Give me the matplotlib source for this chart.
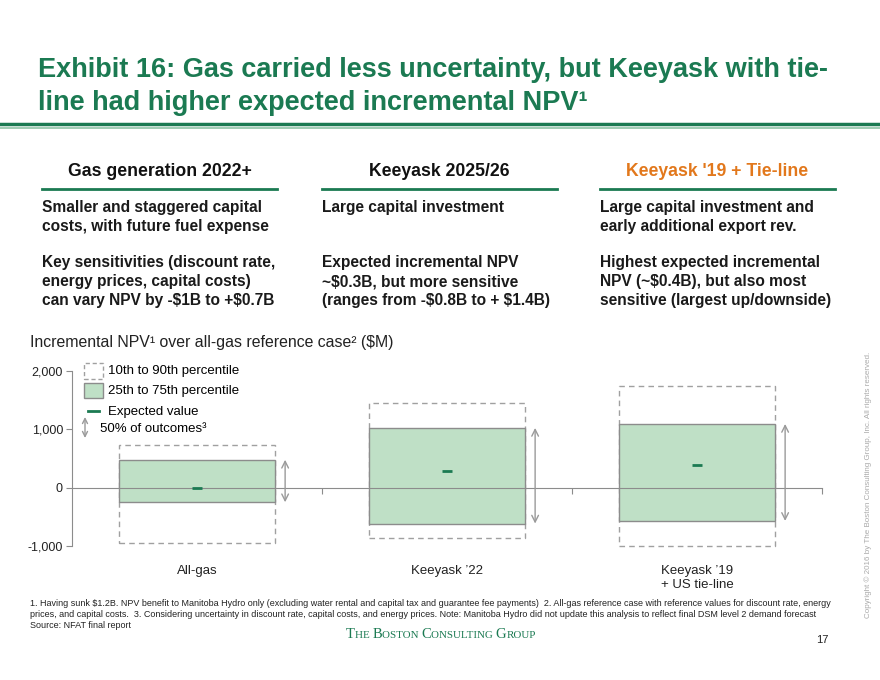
import matplotlib.pyplot as plt
from matplotlib.lines import Line2D
from matplotlib.patches import Rectangle

# NPV ranges ($M)
categories = ["All-gas", "Keeyask \u201922", "Keeyask \u201919\n+ US tie-line"]
p10 = [-955, -870, -1000]
p25 = [-250, -615, -570]
p75 = [478, 1024, 1092]
p90 = [734, 1444, 1746]
expected = [0, 283, 381]
yticks = [-1000, 0, 1000, 2000]
ytick_labels = ["-1,000", "0", "1,000", "2,000"]

col_heads = ["Gas generation 2022+", "Keeyask 2025/26", "Keeyask '19 + Tie-line"]
col_text_1 = ["Smaller and staggered capital\ncosts, with future fuel expense",
              "Large capital investment",
              "Large capital investment and\nearly additional export rev."]
col_text_2 = ["Key sensitivities (discount rate,\nenergy prices, capital costs)\ncan vary NPV by -$1B to +$0.7B",
              "Expected incremental NPV\n~$0.3B, but more sensitive\n(ranges from -$0.8B to + $1.4B)",
              "Highest expected incremental\nNPV (~$0.4B), but also most\nsensitive (largest up/downside)"]

foot_lines = [
    "1. Having sunk $1.2B. NPV benefit to Manitoba Hydro only (excluding water rental and capital tax and guarantee fee payments)  "
    "2. All-gas reference case with reference values for discount rate, energy",
    "prices, and capital costs.  3. Considering uncertainty in discount rate, capital costs, and energy prices. "
    "Note: Manitoba Hydro did not update this analysis to reflect final DSM level 2 demand forecast",
    "Source: NFAT final report",
]

GREEN = "#1b7a52"
ORANGE = "#e2781c"
FILL = "#bfe0c6"
GRAY = "#8c8c8c"
W, H = 880, 680

plt.rcParams["font.family"] = ["Liberation Sans", "DejaVu Sans"]

fig = plt.figure(figsize=(8.8, 6.8), dpi=100)


def px(x):
    return x / W


def py(y):
    return 1 - y / H


def hline(x0, x1, y, color, lw):
    fig.add_artist(Line2D([px(x0), px(x1)], [py(y), py(y)], color=color, lw=lw,
                          transform=fig.transFigure))


def txt(x, y, s, **kw):
    return fig.text(px(x), py(y), s, parse_math=False, **kw)


# title block
txt(38, 70, "Exhibit 16: Gas carried less uncertainty, but Keeyask with tie-",
    fontsize=19.5, fontweight="bold", color=GREEN, va="center")
txt(38, 103, "line had higher expected incremental NPV\u00b9",
    fontsize=19.5, fontweight="bold", color=GREEN, va="center")
hline(0, W, 124, GREEN, 2.5)
hline(0, W, 127.5, "#8fc4a6", 1.2)

# three text columns
col_x = [42, 322, 600]
col_w = 235
for i in range(3):
    txt(col_x[i] + col_w / 2, 172, col_heads[i], fontsize=12.7, fontweight="bold",
        color=ORANGE if i == 2 else "#111111", ha="center", va="center")
    hline(col_x[i], col_x[i] + col_w, 189, GREEN, 2)
    txt(col_x[i], 200, col_text_1[i], fontsize=11.2, fontweight="bold",
        color="#1a1a1a", va="top", linespacing=1.34)
    txt(col_x[i], 255, col_text_2[i], fontsize=11.2, fontweight="bold",
        color="#1a1a1a", va="top", linespacing=1.34)

txt(30, 342, "Incremental NPV\u00b9 over all-gas reference case\u00b2 ($M)",
    fontsize=11.4, color="#222222", va="center")

# chart
ax = fig.add_axes([px(72), py(546), px(822) - px(72), py(371) - py(546)])
ax.set_xlim(-0.5, 2.5)
ax.set_ylim(-1000, 2000)
for s in ["top", "right"]:
    ax.spines[s].set_visible(False)
ax.spines["left"].set_color(GRAY)
ax.spines["bottom"].set_color(GRAY)
ax.spines["bottom"].set_position(("data", 0))
ax.set_yticks(yticks)
ax.set_yticklabels(ytick_labels, fontsize=9, color="#222222")
ax.tick_params(axis="y", color=GRAY, length=4, pad=2.5)
ax.set_xticks([0.5, 1.5, 2.5])
ax.set_xticklabels([])
ax.tick_params(axis="x", color=GRAY, length=4)

bw = 0.625
for i in range(len(categories)):
    ax.add_patch(Rectangle((i - bw / 2, p10[i]), bw, p90[i] - p10[i], fill=False,
                           ec="#a0a0a0", lw=1, ls=(0, (4, 3)), clip_on=False))
    ax.add_patch(Rectangle((i - bw / 2, p25[i]), bw, p75[i] - p25[i], fc=FILL,
                           ec=GRAY, lw=1, clip_on=False, zorder=2))
    ax.plot([i - 0.02, i + 0.02], [expected[i], expected[i]], color=GREEN,
            lw=2, zorder=3, solid_capstyle="butt")
    ax.annotate("", xy=(i + bw / 2 + 0.04, p75[i]), xytext=(i + bw / 2 + 0.04, p25[i]),
                arrowprops=dict(arrowstyle="<->", color="#9a9a9a", lw=1,
                                mutation_scale=12, shrinkA=0, shrinkB=0))
    ax.text(i, -1330, categories[i], fontsize=9.5, color="#222222", ha="center",
            va="top", multialignment="left", linespacing=1.25)

# legend
fig.add_artist(Rectangle((px(84), py(379)), px(19), py(363) - py(379), fill=False,
                         ec="#a0a0a0", lw=1, ls=(0, (3, 2)), transform=fig.transFigure))
txt(108, 371, "10th to 90th percentile", fontsize=9.5, va="center")
fig.add_artist(Rectangle((px(84), py(398)), px(19), py(383) - py(398), fc=FILL,
                         ec=GRAY, lw=1, transform=fig.transFigure))
txt(108, 391, "25th to 75th percentile", fontsize=9.5, va="center")
hline(88, 99, 411, GREEN, 2)
txt(108, 412, "Expected value", fontsize=9.5, va="center")
ax.annotate("", xy=(px(85), py(417)), xytext=(px(85), py(438)),
            xycoords="figure fraction", textcoords="figure fraction",
            arrowprops=dict(arrowstyle="<->", color="#9a9a9a", lw=1,
                            mutation_scale=9, shrinkA=0, shrinkB=0))
txt(100, 429, "50% of outcomes\u00b3", fontsize=9.5, va="center")

# footnotes, one text per line
for k, line in enumerate(foot_lines):
    txt(30, 603 + 11.5 * k, line, fontsize=6.5, color="#222222", va="center")

# logo in small caps, built from big and small pieces
logo = [("T", 10.5), ("HE ", 7.9), ("B", 10.5), ("OSTON ", 7.9), ("C", 10.5),
        ("ONSULTING ", 7.9), ("G", 10.5), ("ROUP", 7.9)]
serif = ["Liberation Serif", "DejaVu Serif"]
renderer = fig.canvas.get_renderer()
pieces = [txt(0, 638, s, fontsize=fs, color=GREEN, va="baseline", family=serif)
          for s, fs in logo]
widths = [p.get_window_extent(renderer).width for p in pieces]
x = 441 - sum(widths) / 2
for p, w in zip(pieces, widths):
    p.set_x(px(x))
    x += w

txt(822, 640, "17", fontsize=8, color="#222222", ha="center", va="center")
txt(868, 485, "Copyright \u00a9 2016 by The Boston Consulting Group, Inc. All rights reserved.",
    fontsize=5.8, color="#aaaaaa", rotation=90, ha="center", va="center")

fig.savefig("out.png", dpi=100)
